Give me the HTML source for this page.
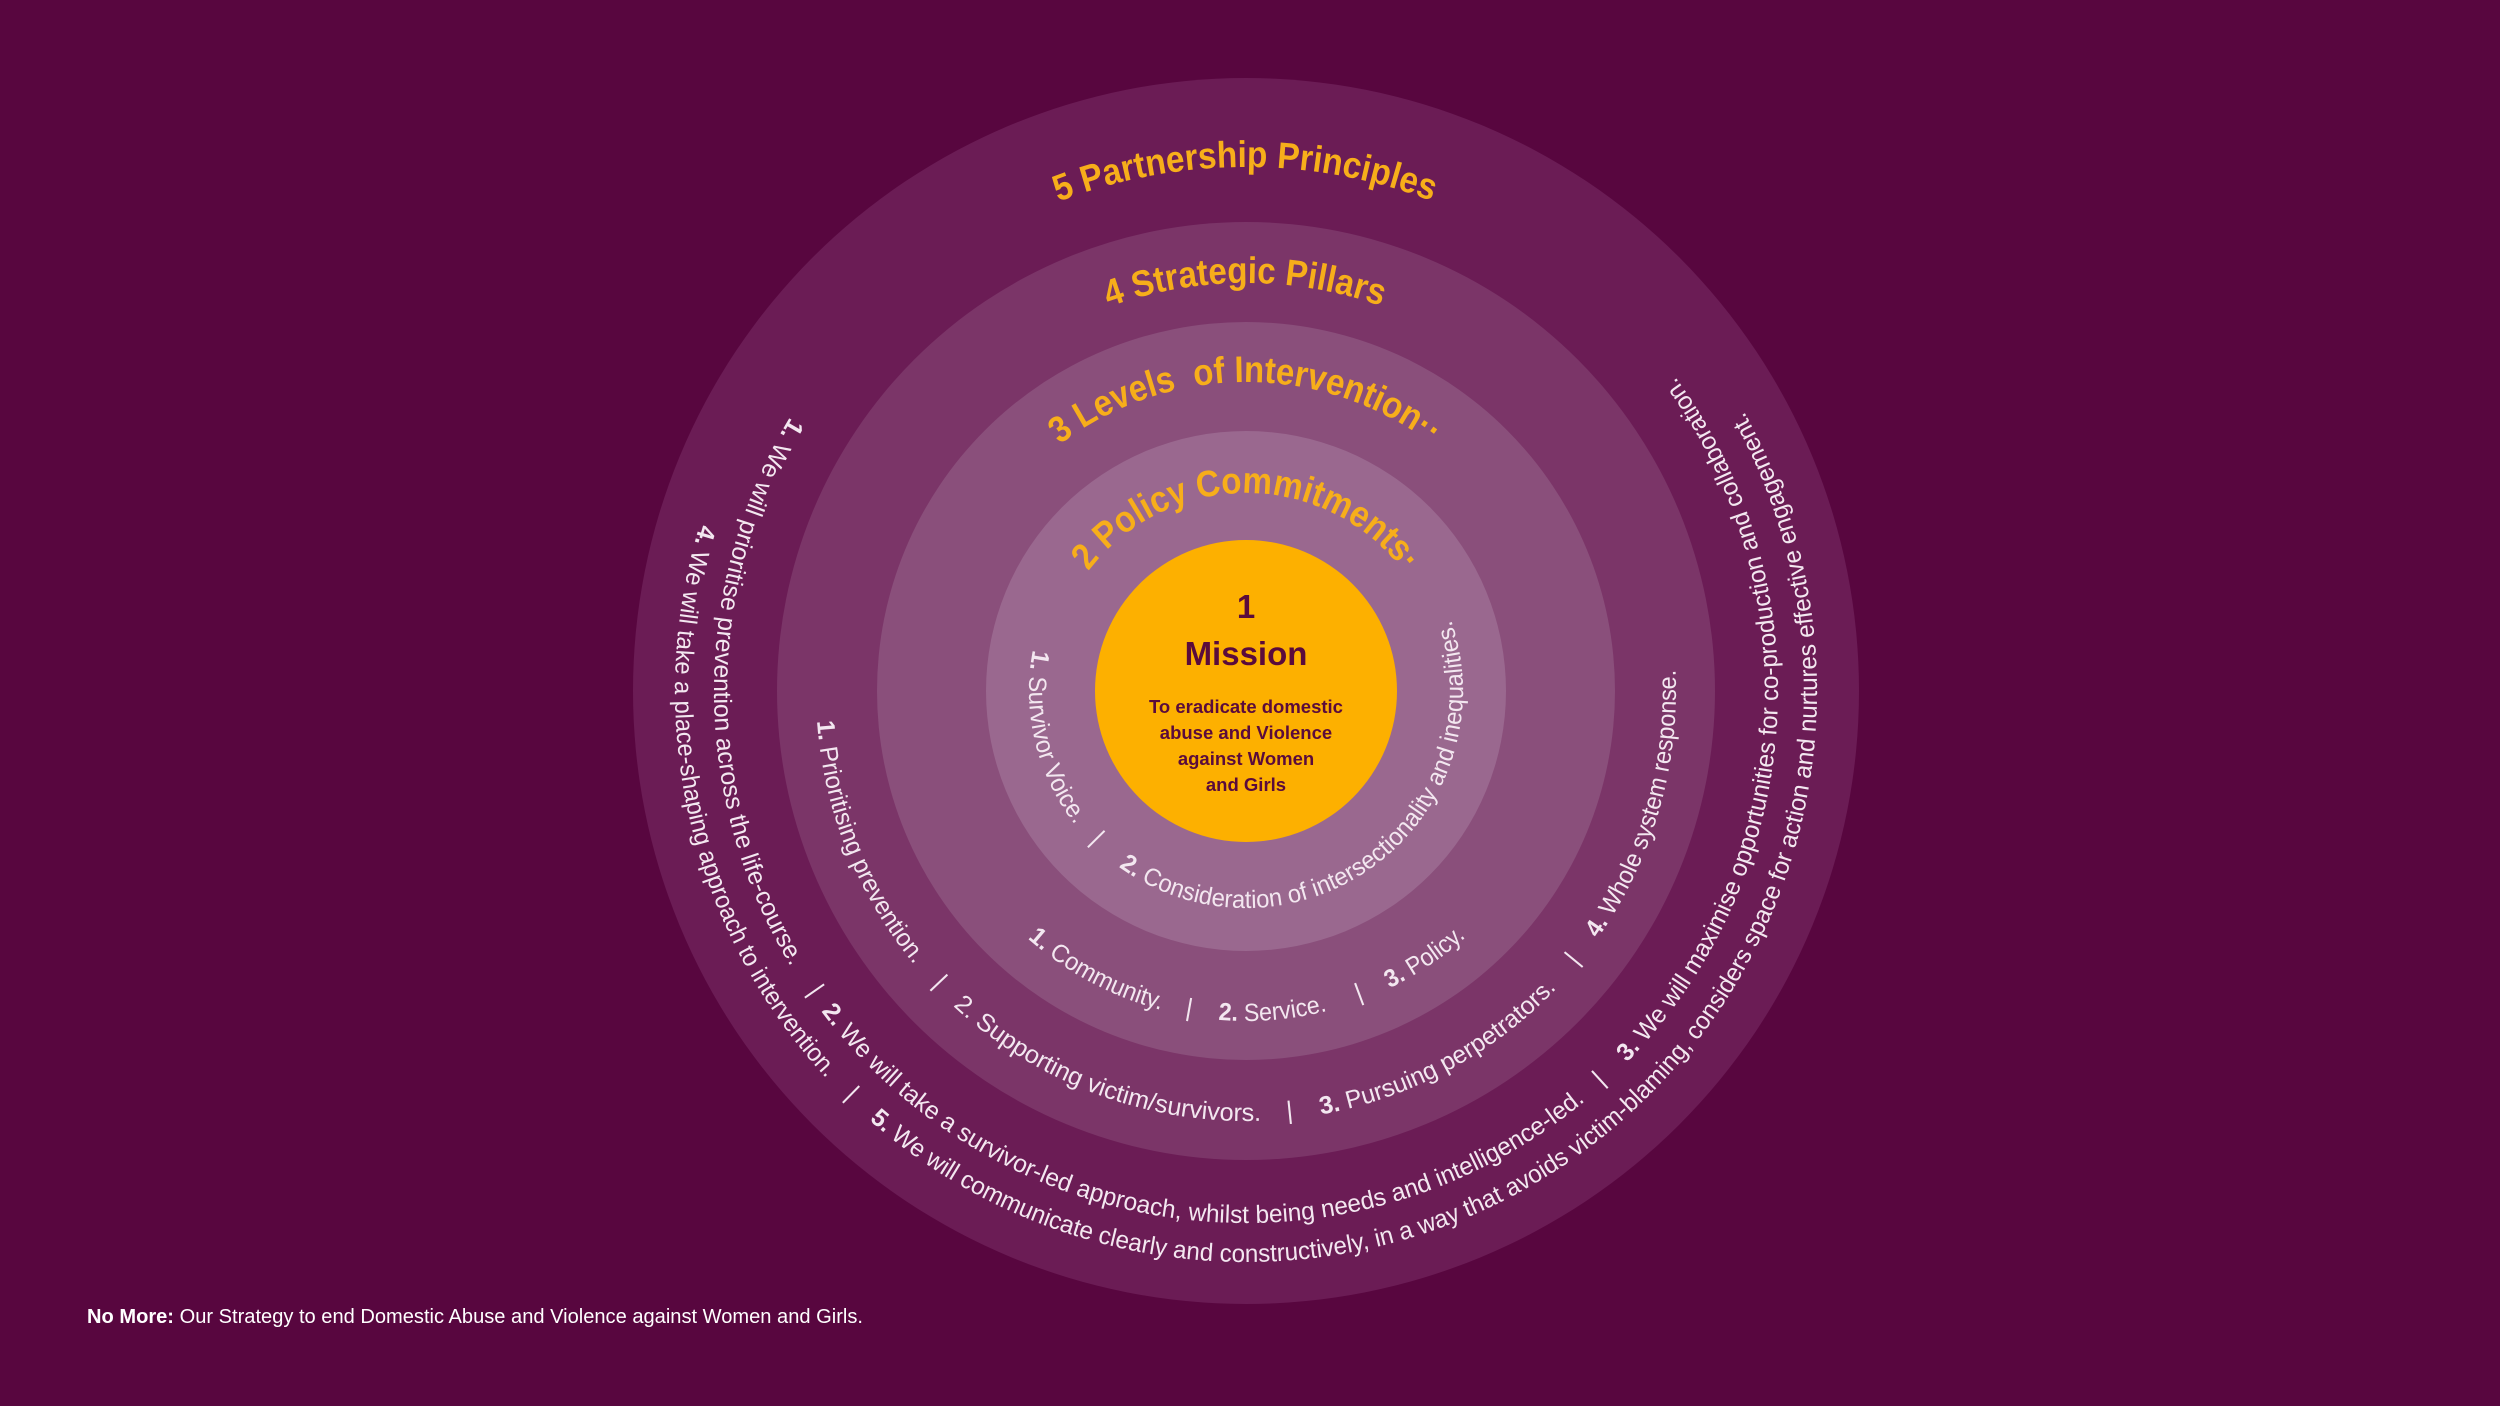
<!DOCTYPE html>
<html>
<head>
<meta charset="utf-8">
<style>
  html, body { margin: 0; padding: 0; background: #58063f; }
  body { width: 2500px; height: 1406px; overflow: hidden; }
  svg { display: block; }
  .hdr { font-family: "Liberation Sans", sans-serif; font-weight: bold; font-size: 37px; fill: #f7ae1a; white-space: pre; }
  .wt { font-family: "Liberation Sans", sans-serif; font-size: 25px; fill: #f3e7f0; white-space: pre; }
  .b { font-weight: bold; }
  .mis { font-family: "Liberation Sans", sans-serif; font-weight: bold; fill: #5a0b3c; }
  .foot { font-family: "Liberation Sans", sans-serif; font-size: 20px; fill: #ffffff; }
</style>
</head>
<body>
<svg width="2500" height="1406" viewBox="0 0 2500 1406" xmlns="http://www.w3.org/2000/svg">
  <defs>
    <path id="h5" d="M 722,691 A 524 524 0 1 1 1770,691 A 524 524 0 1 1 722,691"/>
    <path id="h4" d="M 838,691 A 408 408 0 1 1 1654,691 A 408 408 0 1 1 838,691"/>
    <path id="h3" d="M 937,691 A 309 309 0 1 1 1555,691 A 309 309 0 1 1 937,691"/>
    <path id="h2" d="M 1048,691 A 198 198 0 1 1 1444,691 A 198 198 0 1 1 1048,691"/>
    <path id="w2" d="M 1246,474 A 217 217 0 1 0 1246,908 A 217 217 0 1 0 1246,474"/>
    <path id="w3" d="M 1246,361 A 330 330 0 1 0 1246,1021 A 330 330 0 1 0 1246,361"/>
    <path id="w4" d="M 1246,261 A 430 430 0 1 0 1246,1121 A 430 430 0 1 0 1246,261"/>
    <path id="w5i" d="M 1246,159 A 532 532 0 1 0 1246,1223 A 532 532 0 1 0 1246,159"/>
    <path id="w5o" d="M 1246,120 A 571 571 0 1 0 1246,1262 A 571 571 0 1 0 1246,120"/>
  </defs>

  <rect x="0" y="0" width="2500" height="1406" fill="#58063f"/>

  <circle cx="1246" cy="691" r="613" fill="#6b1c55"/>
  <circle cx="1246" cy="691" r="469" fill="#7b3568"/>
  <circle cx="1246" cy="691" r="369" fill="#8a4f7b"/>
  <circle cx="1246" cy="691" r="260" fill="#9a688f"/>
  <circle cx="1246" cy="691" r="151" fill="#fdb000"/>

  <text class="hdr"><textPath href="#h5" startOffset="631" textLength="382" lengthAdjust="spacingAndGlyphs">5 Partnership Principles</textPath></text>
  <text class="hdr"><textPath href="#h4" startOffset="500.6" textLength="278" lengthAdjust="spacingAndGlyphs">4 Strategic Pillars</textPath></text>
  <text class="hdr"><textPath href="#h3" startOffset="285.3" textLength="399" lengthAdjust="spacingAndGlyphs">3 Levels  of Intervention··</textPath></text>
  <text class="hdr"><textPath href="#h2" startOffset="128.6" textLength="366" lengthAdjust="spacingAndGlyphs">2 Policy Commitments·</textPath></text>

  <text class="wt"><textPath href="#w2" startOffset="299.2" textLength="185.6" lengthAdjust="spacingAndGlyphs"><tspan class="b">1.</tspan> Survivor Voice.</textPath></text>
  <text class="wt"><textPath href="#w2" startOffset="509.8" text-anchor="middle">|</textPath></text>
  <text class="wt"><textPath href="#w2" startOffset="545.4" textLength="549.2" lengthAdjust="spacingAndGlyphs"><tspan class="b">2.</tspan> Consideration of intersectionality and inequalities.</textPath></text>

  <text class="wt"><textPath href="#w3" startOffset="797.7" textLength="152.6" lengthAdjust="spacingAndGlyphs"><tspan class="b">1.</tspan> Community.</textPath></text>
  <text class="wt"><textPath href="#w3" startOffset="978" text-anchor="middle">|</textPath></text>
  <text class="wt"><textPath href="#w3" startOffset="1008.5" textLength="110" lengthAdjust="spacingAndGlyphs"><tspan class="b">2.</tspan> Service.</textPath></text>
  <text class="wt"><textPath href="#w3" startOffset="1154.2" text-anchor="middle">|</textPath></text>
  <text class="wt"><textPath href="#w3" startOffset="1184.7" textLength="92.2" lengthAdjust="spacingAndGlyphs"><tspan class="b">3.</tspan> Policy.</textPath></text>

  <text class="wt"><textPath href="#w4" startOffset="705.4" textLength="266.4" lengthAdjust="spacingAndGlyphs"><tspan class="b">1.</tspan> Prioritising prevention.</textPath></text>
  <text class="wt"><textPath href="#w4" startOffset="1001.9" text-anchor="middle">|</textPath></text>
  <text class="wt"><textPath href="#w4" startOffset="1028.2" textLength="337.7" lengthAdjust="spacingAndGlyphs">2. Supporting victim/survivors.</textPath></text>
  <text class="wt"><textPath href="#w4" startOffset="1395.1" text-anchor="middle">|</textPath></text>
  <text class="wt"><textPath href="#w4" startOffset="1425.9" textLength="271.7" lengthAdjust="spacingAndGlyphs"><tspan class="b">3.</tspan> Pursuing perpetrators.</textPath></text>
  <text class="wt"><textPath href="#w4" startOffset="1730.6" text-anchor="middle">|</textPath></text>
  <text class="wt"><textPath href="#w4" startOffset="1762.1" textLength="285.2" lengthAdjust="spacingAndGlyphs"><tspan class="b">4.</tspan> Whole system response.</textPath></text>

  <text class="wt"><textPath href="#w5i" startOffset="547.8" textLength="577.5" lengthAdjust="spacingAndGlyphs"><tspan class="b">1.</tspan> We will prioritise prevention across the life-course.</textPath></text>
  <text class="wt"><textPath href="#w5i" startOffset="1158.8" text-anchor="middle">|</textPath></text>
  <text class="wt"><textPath href="#w5i" startOffset="1179.2" textLength="859.8" lengthAdjust="spacingAndGlyphs"><tspan class="b">2.</tspan> We will take a survivor-led approach, whilst being needs and intelligence-led.</textPath></text>
  <text class="wt"><textPath href="#w5i" startOffset="2064.1" text-anchor="middle">|</textPath></text>
  <text class="wt"><textPath href="#w5i" startOffset="2095.6" textLength="747.4" lengthAdjust="spacingAndGlyphs"><tspan class="b">3.</tspan> We will maximise opportunities for co-production and collaboration.</textPath></text>

  <text class="wt"><textPath href="#w5o" startOffset="727.5" textLength="595" lengthAdjust="spacingAndGlyphs"><tspan class="b">4.</tspan> We will take a place-shaping approach to intervention.</textPath></text>
  <text class="wt"><textPath href="#w5o" startOffset="1351.4" text-anchor="middle">|</textPath></text>
  <text class="wt"><textPath href="#w5o" startOffset="1382.2" textLength="1600.5" lengthAdjust="spacingAndGlyphs"><tspan class="b">5.</tspan> We will communicate clearly and constructively, in a way that avoids victim-blaming, considers space for action and nurtures effective engagement.</textPath></text>

  <text class="mis" x="1246" y="618" font-size="33" text-anchor="middle">1</text>
  <text class="mis" x="1246" y="665" font-size="33" text-anchor="middle">Mission</text>
  <text class="mis" x="1246" y="713" font-size="18.5" text-anchor="middle">To eradicate domestic</text>
  <text class="mis" x="1246" y="739" font-size="18.5" text-anchor="middle">abuse and Violence</text>
  <text class="mis" x="1246" y="765" font-size="18.5" text-anchor="middle">against Women</text>
  <text class="mis" x="1246" y="791" font-size="18.5" text-anchor="middle">and Girls</text>

  <text class="foot" x="87" y="1323" textLength="776" lengthAdjust="spacingAndGlyphs"><tspan font-weight="bold">No More:</tspan> Our Strategy to end Domestic Abuse and Violence against Women and Girls.</text>
</svg>
</body>
</html>
